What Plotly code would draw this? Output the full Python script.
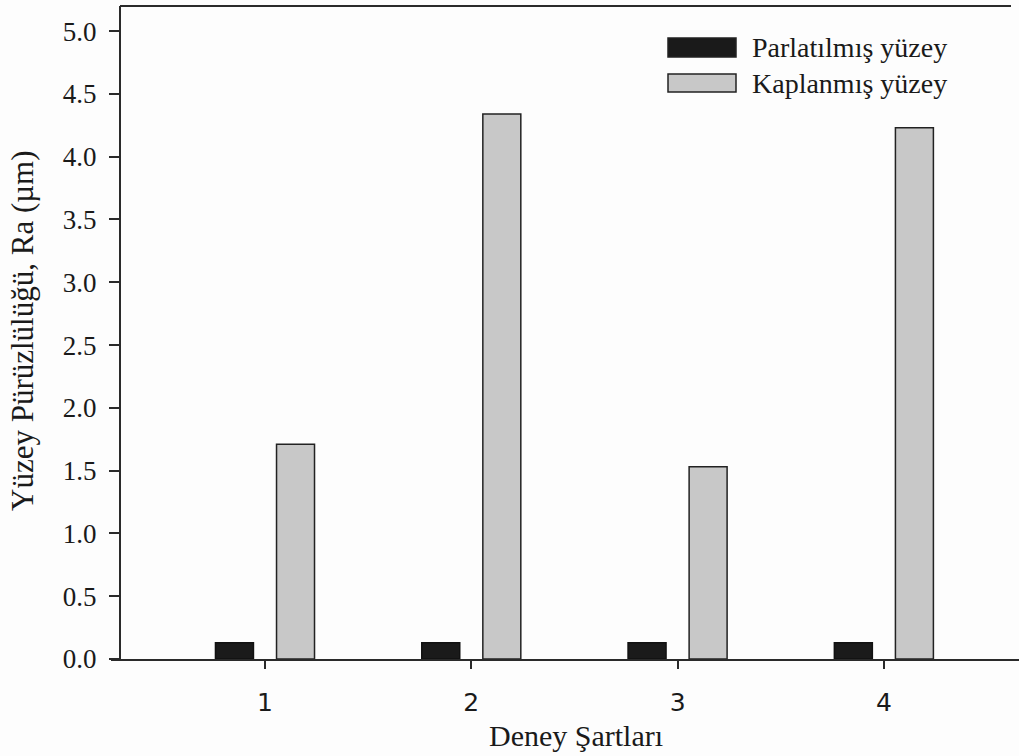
import plotly.graph_objects as go

categories = [1, 2, 3, 4]
parlatilmis = [0.13, 0.13, 0.13, 0.13]
kaplanmis = [1.71, 4.34, 1.53, 4.23]
series_names = ["Parlatılmış yüzey", "Kaplanmış yüzey"]
y_ticks = [0.0, 0.5, 1.0, 1.5, 2.0, 2.5, 3.0, 3.5, 4.0, 4.5, 5.0]

W, H = 1019, 756
L, R, T, B = 121, 0, 6, 97
PW, PH = W - L - R, H - T - B

def px(x):
    return (x - L) / PW

def py(y):
    return (H - B - y) / PH

fig = go.Figure()
fig.add_trace(go.Bar(x=categories, y=parlatilmis, name=series_names[0],
                     marker=dict(color="#1a1a1a", line=dict(color="#111", width=1.5)),
                     showlegend=False))
fig.add_trace(go.Bar(x=categories, y=kaplanmis, name=series_names[1],
                     marker=dict(color="#c8c8c8", line=dict(color="#222", width=1.5)),
                     showlegend=False))

serif = "Liberation Serif"
sans = "DejaVu Sans"
axcol = "#2a2a2a"

fig.update_layout(
    width=W, height=H,
    margin=dict(l=L, r=R, t=T, b=B, pad=0),
    paper_bgcolor="#fdfdfd", plot_bgcolor="rgba(0,0,0,0)",
    barmode="group", bargap=0.408, bargroupgap=0.378,
    xaxis=dict(range=[0.302, 4.655], tickvals=categories, ticktext=[str(c) for c in categories],
               ticks="outside", ticklen=8, tickwidth=2, tickcolor=axcol,
               showline=True, linecolor=axcol, linewidth=2,
               showgrid=False, zeroline=False,
               tickfont=dict(family=sans, size=25, color="#1a1a1a"),
               ticklabelstandoff=12),
    yaxis=dict(range=[0, 5.2], tickvals=y_ticks, ticktext=[f"{v:.1f}" for v in y_ticks],
               ticks="outside", ticklen=10, tickwidth=2, tickcolor=axcol,
               showline=True, linecolor=axcol, linewidth=2,
               showgrid=False, zeroline=False,
               tickfont=dict(family=serif, size=27, color="#1a1a1a"),
               ticklabelstandoff=7),
    showlegend=False,
)

# x axis line extension to the left and top frame line (as in reference)
fig.add_shape(type="line", xref="paper", yref="paper", x0=px(111), x1=px(122),
              y0=py(660), y1=py(660), line=dict(color=axcol, width=2))
fig.add_shape(type="line", xref="paper", yref="paper", x0=px(120), x1=px(1011), y0=1, y1=1,
              line=dict(color=axcol, width=2))

# manual legend
legend_rows = [(series_names[0], "#1a1a1a", 38, 57), (series_names[1], "#c8c8c8", 74, 92)]
for name, col, y0, y1 in legend_rows:
    fig.add_shape(type="rect", xref="paper", yref="paper",
                  x0=px(668), x1=px(736), y0=py(y1), y1=py(y0),
                  fillcolor=col, line=dict(color="#222", width=1.5))
    fig.add_annotation(xref="paper", yref="paper", x=px(750), y=py((y0 + y1) / 2),
                       text=name, showarrow=False, xanchor="left", yanchor="middle",
                       font=dict(family=serif, size=28, color="#1a1a1a"))

# axis titles
fig.add_annotation(xref="paper", yref="paper", x=px(576), y=py(735), text="Deney Şartları",
                   showarrow=False, xanchor="center", yanchor="middle",
                   font=dict(family=serif, size=30, color="#1a1a1a"))
fig.add_annotation(xref="paper", yref="paper", x=px(22), y=py(331),
                   text="Yüzey Pürüzlülüğü, Ra (µm)", textangle=-90,
                   showarrow=False, xanchor="center", yanchor="middle",
                   font=dict(family=serif, size=31, color="#1a1a1a"))

fig.write_html("out.html", config={"displayModeBar": False},
               post_script="document.documentElement.style.overflow='hidden';"
                           "document.body.style.margin='0';document.body.style.overflow='hidden';")
